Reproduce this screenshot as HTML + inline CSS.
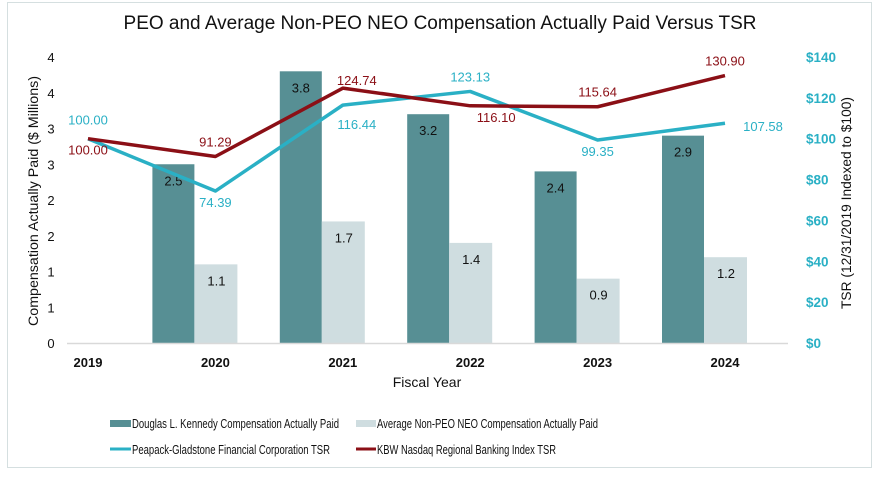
<!DOCTYPE html>
<html><head><meta charset="utf-8"><style>
body{margin:0;background:#fff;}
svg{display:block;font-family:"Liberation Sans",sans-serif;}
</style></head><body>
<svg id="chart" width="879" height="477" viewBox="0 0 879 477" xmlns="http://www.w3.org/2000/svg">
<rect x="7.5" y="2.5" width="864" height="465" fill="#fff" stroke="#d5dfe0"/>
<text x="440" y="29" text-anchor="middle" font-size="19" fill="#111">PEO and Average Non-PEO NEO Compensation Actually Paid Versus TSR</text>
<g id="plot"></g>
<text transform="translate(38,201) rotate(-90)" text-anchor="middle" font-size="13.5" fill="#111" textLength="250" lengthAdjust="spacingAndGlyphs">Compensation Actually Paid ($ Millions)</text>
<text transform="translate(851,203) rotate(-90)" text-anchor="middle" font-size="13.5" fill="#111" textLength="212" lengthAdjust="spacingAndGlyphs">TSR (12/31/2019 Indexed to $100)</text>
<text x="427" y="387" text-anchor="middle" font-size="14" fill="#111">Fiscal Year</text>
<g font-size="13" fill="#111">
 <g><rect x="110" y="420" width="21" height="7" fill="#578f94"/><text x="132" y="428" textLength="207" lengthAdjust="spacingAndGlyphs">Douglas L. Kennedy Compensation Actually Paid</text></g>
 <g><rect x="356" y="420" width="20" height="7" fill="#cfdde0"/><text x="377" y="428" textLength="221" lengthAdjust="spacingAndGlyphs">Average Non-PEO NEO Compensation Actually Paid</text></g>
 <g><line x1="110" y1="449" x2="131" y2="449" stroke="#2ab0c5" stroke-width="3"/><text x="132" y="454" textLength="198" lengthAdjust="spacingAndGlyphs">Peapack-Gladstone Financial Corporation TSR</text></g>
 <g><line x1="356" y1="449" x2="376" y2="449" stroke="#8b0f16" stroke-width="3"/><text x="377" y="454" textLength="179" lengthAdjust="spacingAndGlyphs">KBW Nasdaq Regional Banking Index TSR</text></g>
</g>
</svg>
<script>
const years = ["2019","2020","2021","2022","2023","2024"];
const kennedy = [null, 2.5, 3.8, 3.2, 2.4, 2.9];
const nonPeo = [null, 1.1, 1.7, 1.4, 0.9, 1.2];
const pgTsr = [100.00, 74.39, 116.44, 123.13, 99.35, 107.58];
const kbwTsr = [100.00, 91.29, 124.74, 116.10, 115.64, 130.90];
const leftTicks = [0, 0.5, 1, 1.5, 2, 2.5, 3, 3.5, 4];
const leftTickLabels = ["0","1","1","2","2","3","3","4","4"];
const rightTicks = [0, 20, 40, 60, 80, 100, 120, 140];
// label offsets (style, not data)
const pgOff = [[0,-14],[0,16],[14,24],[0,-10],[0,16],[38,8]];
const kbwOff = [[0,16],[0,-10],[14,-3],[26,16],[0,-10],[0,-10]];

const NS = "http://www.w3.org/2000/svg";
const plot = document.getElementById("plot");
const x = i => 88 + i * 127.4;
const yL = v => 343 - v * 71.5;
const yR = v => 343 - v * 2.043;
function mk(tag, attrs, text){
  const e = document.createElementNS(NS, tag);
  for (const k in attrs) e.setAttribute(k, attrs[k]);
  if (text !== undefined) e.textContent = text;
  plot.appendChild(e);
  return e;
}
leftTicks.forEach((t, i) => {
  const el = mk("text", {x:51, y:yL(t)+5, "text-anchor":"middle", "font-size":13, fill:"#111"}, leftTickLabels[i]);
  
  
});
rightTicks.forEach(t => {
  const el = mk("text", {x:806, y:yR(t)+5, "font-size":13.5, "font-weight":"bold", fill:"#2ab0c5"}, "$" + t);
  
  
});
years.forEach((yr, i) => {
  if (kennedy[i] != null) {
    const b = mk("rect", {x:x(i)-63, y:yL(kennedy[i]), width:42, height:343-yL(kennedy[i]), fill:"#578f94"});
    
    
    const l = mk("text", {x:x(i)-42, y:yL(kennedy[i])+21, "text-anchor":"middle", "font-size":13, fill:"#111"}, kennedy[i].toFixed(1));
    
    
  }
  if (nonPeo[i] != null) {
    const b = mk("rect", {x:x(i)-21, y:yL(nonPeo[i]), width:43, height:343-yL(nonPeo[i]), fill:"#cfdde0"});
    
    
    const l = mk("text", {x:x(i)+1, y:yL(nonPeo[i])+21, "text-anchor":"middle", "font-size":13, fill:"#111"}, nonPeo[i].toFixed(1));
    
    
  }
  const t = mk("text", {x:x(i), y:367, "text-anchor":"middle", "font-size":13, "font-weight":"bold", fill:"#111"}, yr);
  
  
});
const axis = mk("line", {x1:67, y1:343.5, x2:788, y2:343.5, stroke:"#d9d9d9", "stroke-width":1.5});


function series(vals, color, off, name){
  const p = mk("polyline", {points: vals.map((v,i)=>x(i)+","+yR(v)).join(" "), fill:"none", stroke:color, "stroke-width":3.5, "stroke-linejoin":"round"});
  
  
  vals.forEach((v,i) => {
    const l = mk("text", {x:x(i)+off[i][0], y:yR(v)+off[i][1], "text-anchor":"middle", "font-size":13, fill:color}, v.toFixed(2));
    
    
  });
}
series(pgTsr, "#2ab0c5", pgOff, "peapack-tsr");
series(kbwTsr, "#8b0f16", kbwOff, "kbw-tsr");
</script>
</body></html>
